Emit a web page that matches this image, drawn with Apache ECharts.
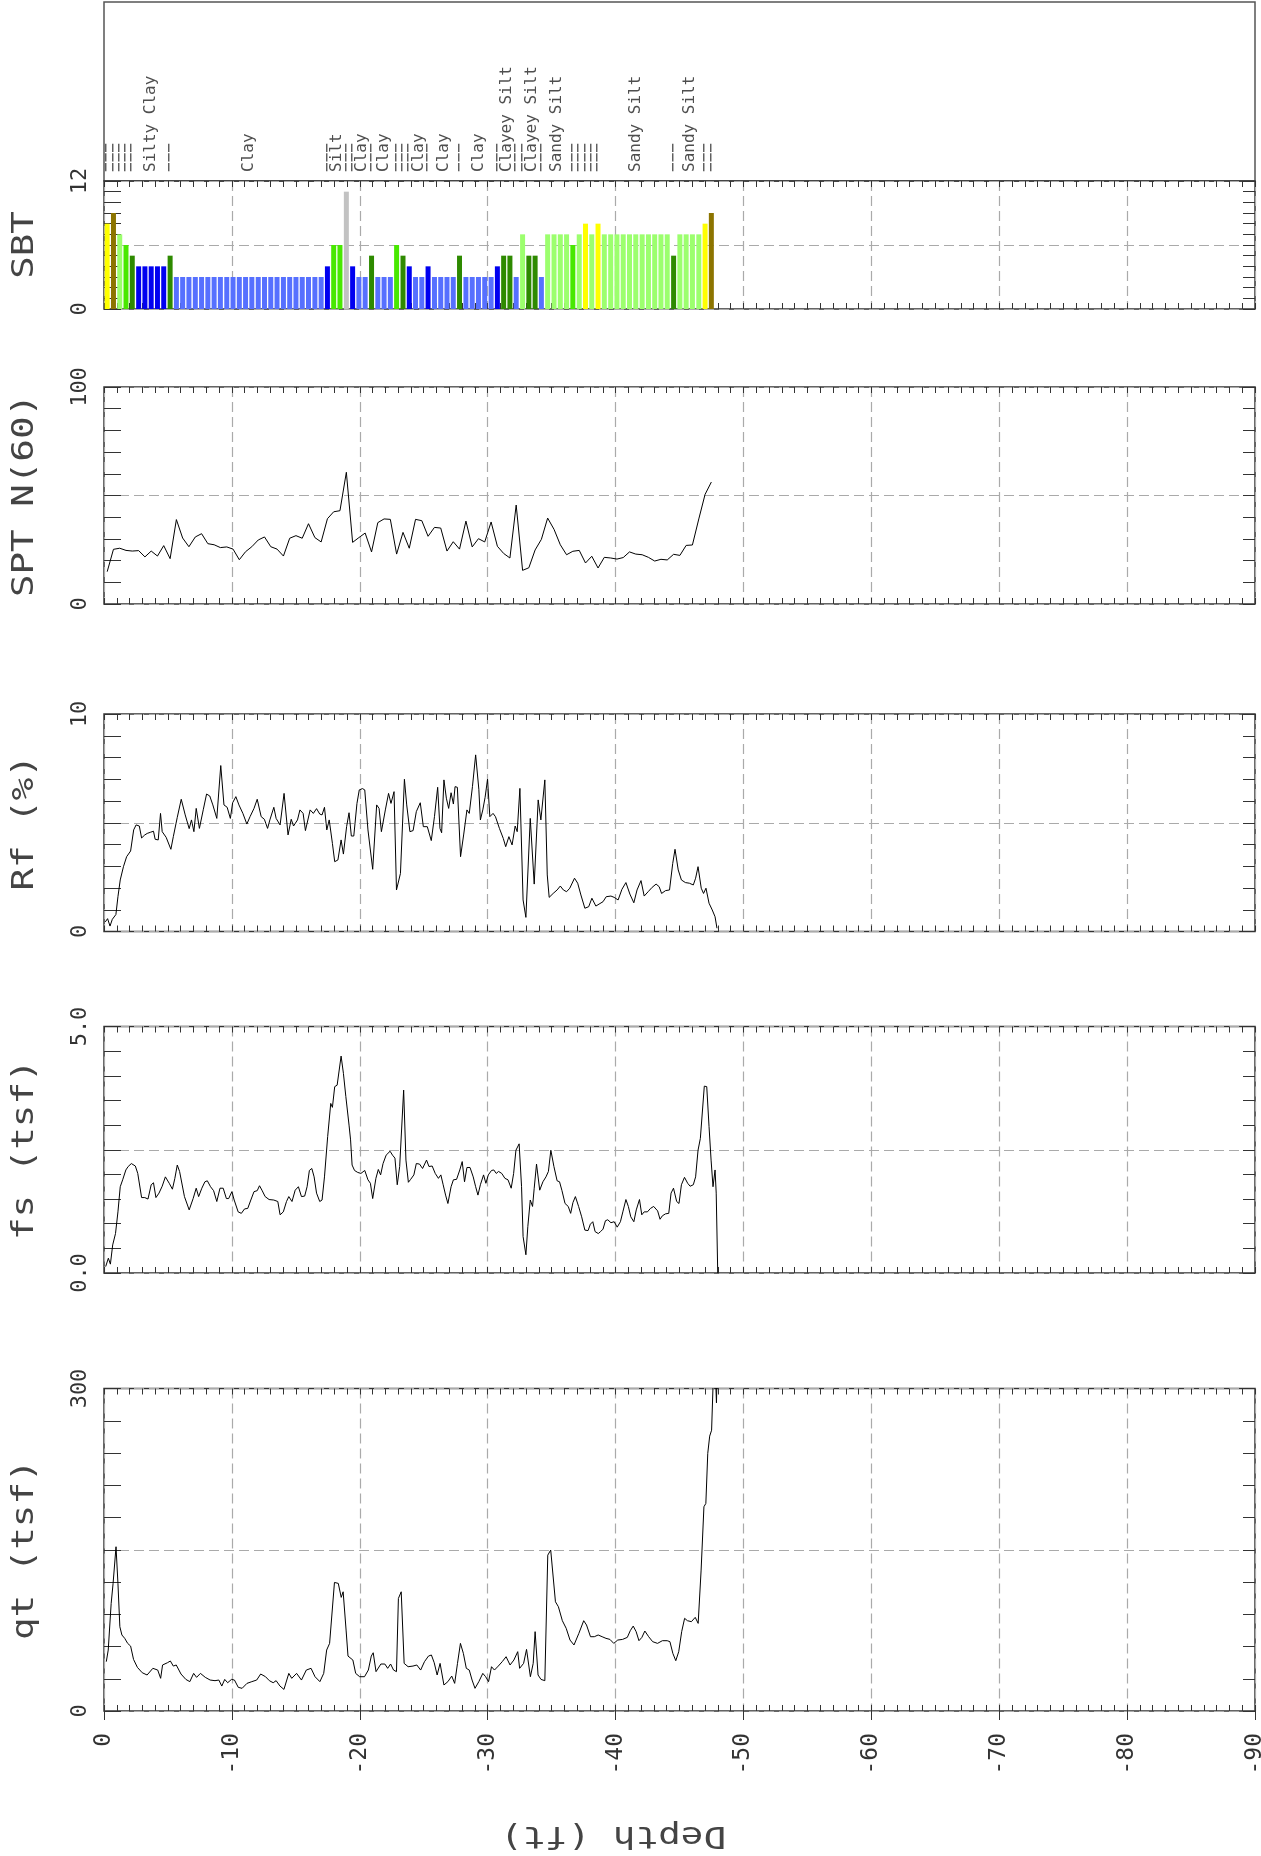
<!DOCTYPE html>
<html>
<head>
<meta charset="utf-8">
<title>CPT log</title>
<script src="https://cdn.jsdelivr.net/npm/echarts@6/dist/echarts.min.js"></script>
<style>
  html, body { margin: 0; padding: 0; background: #fff; }
  #chart { width: 1261px; height: 1856px; }
</style>
</head>
<body>
<div id="chart"></div>
<script>
// depth of each 0.15 m sample (ft), shared by SBT and SPT
const sampleDepth = [
  0.25, 0.74, 1.23, 1.72, 2.21, 2.71, 3.20, 3.69, 4.18, 4.67,
  5.17, 5.66, 6.15, 6.64, 7.14, 7.63, 8.12, 8.61, 9.10, 9.60,
  10.09, 10.58, 11.07, 11.56, 12.06, 12.55, 13.04, 13.53, 14.03, 14.52,
  15.01, 15.50, 15.99, 16.49, 16.98, 17.47, 17.96, 18.45, 18.95, 19.44,
  19.93, 20.42, 20.92, 21.41, 21.90, 22.39, 22.88, 23.38, 23.87, 24.36,
  24.85, 25.34, 25.84, 26.33, 26.82, 27.31, 27.80, 28.30, 28.79, 29.28,
  29.77, 30.27, 30.76, 31.25, 31.74, 32.23, 32.73, 33.22, 33.71, 34.20,
  34.69, 35.19, 35.68, 36.17, 36.66, 37.16, 37.65, 38.14, 38.63, 39.12,
  39.62, 40.11, 40.60, 41.09, 41.58, 42.08, 42.57, 43.06, 43.55, 44.04,
  44.54, 45.03, 45.52, 46.01, 46.51, 47.00, 47.49
];

const sbtClass = [
  8, 9, 7, 6, 5, 4, 4, 4, 4, 4,
  5, 3, 3, 3, 3, 3, 3, 3, 3, 3,
  3, 3, 3, 3, 3, 3, 3, 3, 3, 3,
  3, 3, 3, 3, 3, 4, 6, 6, 11, 4,
  3, 3, 5, 3, 3, 3, 6, 5, 4, 3,
  3, 4, 3, 3, 3, 3, 5, 3, 3, 3,
  3, 3, 4, 5, 5, 3, 7, 5, 5, 3,
  7, 7, 7, 7, 6, 7, 8, 7, 8, 7,
  7, 7, 7, 7, 7, 7, 7, 7, 7, 7,
  5, 7, 7, 7, 7, 8, 9
];

const sptN = [
  14.9, 25.2, 25.7, 24.7, 24.4, 24.6, 21.7, 24.4, 22.1, 26.9,
  20.9, 38.9, 30.4, 26.4, 30.9, 32.4, 27.8, 27.3, 26.0, 26.3,
  25.3, 20.4, 24.1, 26.4, 29.5, 30.9, 26.4, 25.3, 22.1, 30.3,
  31.5, 30.3, 37.0, 30.6, 28.6, 39.3, 42.5, 43.0, 60.7, 28.4,
  30.6, 32.7, 24.0, 37.5, 39.2, 39.0, 23.0, 33.0, 25.7, 39.0,
  38.4, 31.2, 35.3, 35.0, 24.4, 28.7, 25.3, 38.2, 26.3, 30.1,
  28.6, 37.8, 26.6, 23.3, 21.2, 45.6, 15.5, 16.7, 24.9, 29.8,
  39.6, 34.4, 27.3, 22.7, 24.3, 24.7, 18.9, 22.0, 16.6, 21.5,
  21.2, 20.7, 21.4, 24.0, 23.0, 22.7, 21.5, 19.8, 20.6, 20.3,
  22.9, 22.4, 27.0, 27.2, 39.2, 50.5, 56.2
];

// [depth ft, Rf %]
const rf = [
  [0.1,0.44],[0.28,0.59],[0.47,0.25],[0.65,0.56],[0.93,0.78],[1.09,1.6],[1.27,2.37],[1.52,2.98],[1.77,3.44],[2.08,3.7],
  [2.32,4.67],[2.51,4.9],[2.76,4.85],[2.94,4.3],[3.19,4.44],[3.38,4.51],[3.62,4.56],[3.87,4.61],[4.0,4.24],[4.24,4.21],
  [4.42,5.43],[4.55,4.59],[4.86,4.33],[5.23,3.78],[5.42,4.36],[5.73,5.25],[6.04,6.08],[6.35,5.36],[6.66,4.73],[6.84,5.13],
  [7.03,4.59],[7.21,5.66],[7.46,4.74],[7.77,5.62],[8.02,6.32],[8.27,6.23],[8.51,5.82],[8.82,5.2],[9.13,7.63],[9.38,5.82],
  [9.63,5.71],[9.88,5.2],[10.06,5.92],[10.31,6.2],[10.55,5.82],[10.86,5.43],[11.17,4.94],[11.42,5.28],[11.73,5.66],[11.98,6.08],
  [12.29,5.28],[12.54,5.16],[12.79,4.74],[12.97,5.13],[13.28,5.71],[13.46,5.2],[13.77,4.9],[14.08,6.35],[14.39,4.44],[14.64,5.16],
  [14.82,4.85],[15.13,5.13],[15.32,5.59],[15.57,5.43],[15.75,4.64],[16.12,5.59],[16.37,5.43],[16.62,5.65],[16.87,5.4],[17.05,5.36],
  [17.24,5.71],[17.42,4.67],[17.61,5.13],[17.86,4.05],[18.04,3.21],[18.29,3.29],[18.54,4.21],[18.72,3.56],[18.97,4.82],[19.16,5.46],
  [19.34,4.39],[19.53,4.39],[19.78,5.89],[19.96,6.51],[20.21,6.57],[20.39,6.51],[20.64,4.67],[21.01,2.86],[21.32,5.82],[21.51,5.66],
  [21.69,4.59],[22.0,5.59],[22.25,6.35],[22.44,5.89],[22.68,6.43],[22.87,1.91],[23.18,2.67],[23.49,7.0],[23.67,5.82],[23.92,4.59],
  [24.17,4.64],[24.42,5.51],[24.73,5.92],[24.97,4.82],[25.28,4.82],[25.59,4.18],[25.84,5.28],[26.09,6.63],[26.27,4.74],[26.4,4.54],
  [26.58,6.97],[26.77,6.13],[26.95,5.66],[27.14,6.38],[27.32,5.86],[27.45,6.66],[27.63,6.63],[27.88,3.44],[28.13,4.48],[28.38,5.59],
  [28.56,5.43],[28.81,6.66],[29.06,8.12],[29.31,6.54],[29.43,5.13],[29.62,5.59],[29.8,6.17],[29.99,7.0],[30.17,5.28],[30.42,5.43],
  [30.61,5.28],[30.92,4.74],[31.22,4.28],[31.41,3.9],[31.66,4.36],[31.91,3.98],[32.15,4.85],[32.31,4.59],[32.52,6.58],[32.77,1.45],
  [32.99,0.65],[33.33,5.2],[33.64,2.18],[33.95,6.05],[34.16,5.13],[34.47,6.97],[34.66,2.6],[34.81,1.57],[35.12,1.75],[35.43,1.91],
  [35.68,2.09],[35.92,1.91],[36.17,1.83],[36.42,1.99],[36.79,2.45],[37.04,2.22],[37.29,1.68],[37.6,1.07],[37.9,1.14],[38.15,1.53],
  [38.46,1.17],[38.71,1.26],[39.02,1.37],[39.27,1.6],[39.64,1.63],[39.89,1.57],[40.2,1.45],[40.5,1.94],[40.81,2.25],[41.12,1.72],
  [41.43,1.32],[41.68,1.91],[41.99,2.34],[42.24,1.63],[42.55,1.83],[42.86,2.03],[43.17,2.18],[43.41,2.06],[43.6,1.75],[43.91,1.88],
  [44.22,1.91],[44.47,3.13],[44.65,3.78],[44.9,2.83],[45.15,2.37],[45.46,2.25],[45.77,2.22],[46.08,2.14],[46.26,2.45],[46.45,2.98],
  [46.7,1.99],[46.88,1.75],[47.07,1.99],[47.31,1.3],[47.56,0.99],[47.78,0.68],[47.93,0.15]
];

// [depth ft, fs tsf]
const fs = [
  [0.13,0.13],[0.34,0.3],[0.5,0.18],[0.68,0.57],[0.9,0.8],[1.09,1.24],[1.27,1.75],[1.46,1.89],[1.71,2.09],[1.89,2.16],
  [2.14,2.22],[2.45,2.17],[2.64,2.02],[2.94,1.53],[3.19,1.53],[3.44,1.5],[3.69,1.79],[3.87,1.83],[4.06,1.53],[4.3,1.62],
  [4.55,1.76],[4.8,1.95],[5.1,1.82],[5.35,1.7],[5.54,1.92],[5.73,2.19],[5.91,2.06],[6.04,2.06],[6.29,1.55],[6.66,1.28],
  [6.97,1.51],[7.21,1.72],[7.4,1.55],[7.65,1.72],[7.89,1.85],[8.08,1.87],[8.33,1.75],[8.57,1.67],[8.82,1.45],[9.07,1.72],
  [9.32,1.72],[9.57,1.51],[9.75,1.51],[10.0,1.65],[10.18,1.48],[10.49,1.24],[10.74,1.21],[10.99,1.3],[11.24,1.31],[11.48,1.48],
  [11.73,1.65],[11.98,1.67],[12.16,1.77],[12.35,1.68],[12.6,1.55],[12.91,1.49],[13.28,1.48],[13.59,1.45],[13.77,1.18],[14.02,1.24],
  [14.27,1.45],[14.45,1.55],[14.7,1.45],[14.95,1.68],[15.2,1.75],[15.44,1.55],[15.69,1.56],[15.88,1.75],[16.06,2.08],[16.25,2.12],
  [16.43,1.95],[16.62,1.62],[16.87,1.45],[17.05,1.48],[17.24,1.95],[17.49,2.77],[17.73,3.44],[17.86,3.36],[18.04,3.78],[18.23,3.81],
  [18.54,4.4],[18.72,4.05],[18.91,3.58],[19.16,3.0],[19.28,2.7],[19.4,2.19],[19.59,2.08],[19.84,2.04],[20.09,2.02],[20.39,2.08],
  [20.64,1.89],[20.83,1.82],[21.01,1.51],[21.26,1.92],[21.45,2.1],[21.63,1.99],[21.82,2.22],[22.06,2.39],[22.37,2.47],[22.56,2.39],
  [22.75,2.33],[22.93,1.79],[23.12,2.16],[23.43,3.71],[23.61,2.29],[23.8,1.84],[23.98,1.9],[24.23,1.99],[24.42,2.22],[24.67,2.21],
  [24.91,2.12],[25.22,2.29],[25.41,2.16],[25.66,2.17],[25.9,2.02],[26.15,1.92],[26.34,1.99],[26.52,1.79],[26.71,1.58],[26.89,1.41],
  [27.14,1.75],[27.32,1.89],[27.57,1.9],[27.82,2.09],[28.01,2.26],[28.19,1.85],[28.38,2.14],[28.62,2.14],[28.87,1.95],[29.06,1.75],
  [29.24,1.58],[29.43,1.79],[29.68,1.99],[29.86,1.82],[30.05,1.99],[30.3,2.08],[30.48,2.09],[30.67,2.02],[30.85,2.06],[31.1,2.02],
  [31.35,1.92],[31.59,1.89],[31.84,1.72],[32.03,2.02],[32.21,2.49],[32.46,2.62],[32.65,1.75],[32.77,0.74],[32.99,0.37],[33.14,0.94],
  [33.33,1.48],[33.51,1.35],[33.64,1.72],[33.82,2.21],[34.07,1.68],[34.32,1.85],[34.56,1.95],[34.75,2.06],[34.94,2.49],[35.18,2.16],
  [35.43,1.87],[35.62,1.85],[35.81,1.67],[36.05,1.41],[36.3,1.35],[36.49,1.21],[36.67,1.43],[36.86,1.55],[37.11,1.35],[37.35,1.14],
  [37.6,0.87],[37.85,0.86],[38.03,0.99],[38.22,1.04],[38.4,0.84],[38.65,0.8],[38.83,0.84],[39.02,0.89],[39.21,1.06],[39.39,1.08],
  [39.64,1.02],[39.89,1.04],[40.13,0.93],[40.38,1.04],[40.57,1.24],[40.81,1.49],[41.0,1.35],[41.19,1.14],[41.43,1.04],[41.62,1.28],
  [41.87,1.49],[42.05,1.18],[42.24,1.24],[42.49,1.24],[42.73,1.31],[42.98,1.35],[43.29,1.26],[43.48,1.09],[43.66,1.16],[43.91,1.2],
  [44.16,1.21],[44.34,1.62],[44.53,1.72],[44.78,1.45],[44.96,1.41],[45.15,1.79],[45.39,1.94],[45.64,1.82],[45.83,1.76],[46.08,1.79],
  [46.26,1.95],[46.45,2.49],[46.63,2.73],[46.76,2.77],[46.94,3.79],[47.13,3.78],[47.31,2.97],[47.47,2.29],[47.62,1.75],[47.78,2.09],
  [47.87,1.62],[47.99,0.0]
];

// [depth ft, qt tsf]
const qt = [
  [0.18,45.9],[0.33,56.7],[0.56,100],[0.71,118.7],[0.94,152.8],[1.09,118.7],[1.24,78.4],[1.4,70.7],[1.62,67.6],[1.85,62.9],
  [2.08,60.4],[2.31,48.0],[2.61,40.6],[2.99,35.6],[3.37,33.5],[3.82,39.7],[4.2,38.1],[4.43,30.4],[4.58,42.8],[4.96,44.9],
  [5.19,46.5],[5.42,41.8],[5.65,42.8],[6.02,34.4],[6.4,29.4],[6.71,27.3],[7.01,35.0],[7.24,31.3],[7.54,35.0],[7.92,31.3],
  [8.3,28.8],[8.68,28.2],[8.98,28.8],[9.21,23.2],[9.44,29.4],[9.67,26.3],[9.97,29.4],[10.2,28.8],[10.5,22.0],[10.8,21.1],
  [11.18,25.7],[11.56,27.3],[11.94,28.8],[12.25,34.4],[12.63,31.9],[12.93,28.2],[13.23,26.3],[13.46,28.2],[13.76,23.2],[14.07,20.1],
  [14.45,35.0],[14.68,30.4],[15.06,35.0],[15.44,28.8],[15.82,38.1],[16.19,39.7],[16.5,31.9],[16.88,27.3],[17.18,35.0],[17.41,56.7],
  [17.64,62.9],[18.02,119.6],[18.32,118.7],[18.55,105.7],[18.7,110.9],[18.93,75.3],[19.08,51.1],[19.46,47.4],[19.68,35.0],[19.99,31.9],
  [20.37,31.9],[20.67,38.1],[20.9,51.1],[21.05,54.2],[21.27,36.6],[21.65,43.7],[21.96,43.7],[22.18,39.7],[22.41,43.7],[22.64,38.1],
  [22.87,36.6],[23.02,104.7],[23.24,110.9],[23.47,44.3],[23.78,41.2],[24.16,41.8],[24.46,42.8],[24.76,38.1],[25.06,45.9],[25.37,51.1],
  [25.6,52.1],[25.82,44.9],[26.05,33.5],[26.28,44.3],[26.58,24.2],[26.89,27.3],[27.19,32.5],[27.42,25.7],[27.64,44.3],[27.87,62.9],
  [28.1,53.6],[28.33,39.7],[28.56,38.1],[28.78,28.8],[29.01,21.1],[29.31,27.3],[29.62,35.0],[29.84,31.9],[30.07,27.3],[30.3,41.2],
  [30.53,38.1],[30.83,41.8],[31.14,45.9],[31.44,50.5],[31.75,42.8],[32.05,47.4],[32.35,55.2],[32.5,39.7],[32.81,44.3],[33.04,57.3],
  [33.34,31.9],[33.56,44.3],[33.71,73.8],[33.94,33.5],[34.17,29.4],[34.47,28.2],[34.7,145.0],[34.93,149.7],[35.3,101.6],[35.53,97.0],
  [35.84,84.0],[36.14,76.9],[36.44,66.0],[36.75,61.4],[37.13,72.2],[37.51,84.0],[37.73,80.0],[38.04,69.1],[38.34,69.1],[38.64,70.7],
  [38.95,69.1],[39.25,67.6],[39.56,66.6],[39.86,62.9],[40.17,66.0],[40.55,66.6],[40.92,68.5],[41.15,74.7],[41.38,79.0],[41.61,73.8],
  [41.83,65.4],[42.06,68.5],[42.29,74.4],[42.59,69.1],[42.9,64.5],[43.28,62.9],[43.66,65.4],[44.04,65.4],[44.25,64.5],[44.48,53.6],
  [44.71,46.8],[44.94,55.2],[45.17,73.8],[45.4,86.2],[45.62,84.0],[45.93,83.1],[46.23,87.1],[46.46,81.5],[46.69,131.1],[46.91,190.0],
  [47.06,193.1],[47.21,239.6],[47.36,255.7],[47.51,261.2],[47.67,320],[47.82,310],[47.89,286.7],[47.97,330]
];

const soilName = { 3: 'Clay', 4: 'Silty Clay', 5: 'Clayey Silt', 6: 'Silt', 7: 'Sandy Silt' };
const thinLayerMark = '−−−';
const sbtColor = {
  3: '#5670ff', 4: '#0000f0', 5: '#2e8a00', 6: '#48e800', 7: '#9cff6e',
  8: '#ffff00', 9: '#8c7400', 11: '#c2c2c2'
};

const panelTitle = ['SBT', 'SPT N(60)', 'Rf (%)', 'fs (tsf)', 'qt (tsf)'];
const panelMin = [0, 0, 0, 0, 0];
const panelMax = [12, 100, 10, 5, 300];
const panelStep = [1, 10, 1, 0.5, 30];
const panelEndLabels = [['0', '12'], ['0', '100'], ['0', '10'], ['0.0', '5.0'], ['0', '300']];
const depthTitle = 'Depth (ft)';

// layout (px)
const LEFT = 104, RIGHT = 6;
const panelTop = [181, 387, 714, 1026.5, 1388.5];
const panelHeight = [128, 217, 217.5, 246.5, 322.5];

const FONT = '"DejaVu Sans Mono", monospace';
const INK = '#333';
const dash = { type: [10, 5], color: '#aaa', width: 1.2 };
// every axis sits on its own grid edge (no snapping to the other axis' zero)
const noLine = { show: false, onZero: false };

// soil layer labels: one per run of equal SBT class
const soilLabels = [];
for (let i = 0; i < sbtClass.length;) {
  let j = i;
  while (j + 1 < sbtClass.length && sbtClass[j + 1] === sbtClass[i]) j++;
  const mid = (sampleDepth[i] + sampleDepth[j]) / 2;
  soilLabels.push([mid, 0, j > i ? soilName[sbtClass[i]] : thinLayerMark]);
  i = j + 1;
}

const grid = [{
  left: LEFT, right: RIGHT, top: 2, height: 179, show: true,
  borderColor: '#555', borderWidth: 1.5, outerBoundsMode: 'none'
}];
const xAxis = [{ gridIndex: 0, type: 'value', min: 0, max: 90, show: false, axisLine: noLine }];
const yAxis = [{ gridIndex: 0, type: 'value', min: 0, max: 1, show: false, axisLine: noLine }];
const graphic = [];

panelTitle.forEach((title, i) => {
  const g = i + 1;
  const last = i === panelTitle.length - 1;
  grid.push({
    left: LEFT, right: RIGHT, top: panelTop[i], height: panelHeight[i], show: true,
    borderColor: INK, borderWidth: 1.5, outerBoundsMode: 'none'
  });
  const tickStyle = { color: INK, width: 1 };
  xAxis.push(
    { gridIndex: g, type: 'value', min: 0, max: 90, interval: 1, position: 'bottom',
      axisLine: noLine, axisTick: { inside: true, length: 6, lineStyle: tickStyle },
      axisLabel: { show: false }, splitLine: { show: false } },
    { gridIndex: g, type: 'value', min: 0, max: 90, interval: 1, position: 'top',
      axisLine: noLine, axisTick: { inside: true, length: 6, lineStyle: tickStyle },
      axisLabel: { show: false }, splitLine: { show: false } },
    { gridIndex: g, type: 'value', min: 0, max: 90, interval: 10, position: 'bottom',
      axisLine: noLine,
      axisTick: { show: last, inside: false, length: 9, lineStyle: tickStyle },
      axisLabel: { show: last, rotate: 90, margin: 22, fontFamily: FONT, fontSize: 23,
        color: INK, formatter: v => String(-v) },
      splitLine: { show: true, lineStyle: dash } }
  );
  const lo = panelMin[i], hi = panelMax[i];
  yAxis.push(
    { gridIndex: g, type: 'value', min: lo, max: hi, interval: panelStep[i], position: 'left',
      axisLine: noLine, axisTick: { inside: true, length: 17, lineStyle: tickStyle },
      axisLabel: { rotate: 90, margin: 13, fontFamily: FONT, fontSize: 22, color: INK,
        showMinLabel: true, showMaxLabel: true,
        formatter: v => v === lo ? panelEndLabels[i][0] : (Math.abs(v - hi) < 1e-9 ? panelEndLabels[i][1] : '') },
      splitLine: { show: false } },
    { gridIndex: g, type: 'value', min: lo, max: hi, interval: panelStep[i], position: 'right',
      axisLine: noLine, axisTick: { inside: true, length: 12, lineStyle: tickStyle },
      axisLabel: { show: false }, splitLine: { show: false } },
    { gridIndex: g, type: 'value', min: lo, max: hi, interval: (hi - lo) / 2, position: 'left',
      axisLine: noLine, axisTick: { show: false }, axisLabel: { show: false },
      splitLine: { show: true, lineStyle: dash } }
  );
  graphic.push({
    type: 'text', x: 25.5, y: panelTop[i] + panelHeight[i] / 2, rotation: Math.PI / 2,
    scaleX: 1.25,
    style: { text: title, font: '30px ' + FONT, fill: '#444',
      textAlign: 'center', textVerticalAlign: 'middle' }
  });
});

graphic.push({
  type: 'text', x: 613, y: 1835, rotation: Math.PI, scaleX: 1.25,
  style: { text: depthTitle, font: '30px ' + FONT, fill: '#444',
    textAlign: 'center', textVerticalAlign: 'middle' }
});

const axisOf = i => ({ xAxisIndex: 1 + i * 3, yAxisIndex: 1 + i * 3 });
const lineBase = { type: 'line', symbol: 'none', clip: true,
  lineStyle: { color: '#000', width: 1 }, z: 5 };

const series = [
  {
    type: 'scatter', xAxisIndex: 0, yAxisIndex: 0, symbolSize: 0, silent: true,
    data: soilLabels,
    label: { show: true, position: 'top', distance: 9, rotate: 90, align: 'left',
      verticalAlign: 'middle', fontFamily: FONT, fontSize: 16, color: '#222',
      formatter: p => p.data[2] }
  },
  Object.assign({
    type: 'bar', barWidth: 5, silent: true,
    data: sampleDepth.map((d, k) => ({
      value: [d, sbtClass[k]], itemStyle: { color: sbtColor[sbtClass[k]] }
    }))
  }, axisOf(0)),
  Object.assign({}, lineBase, axisOf(1), { data: sampleDepth.map((d, k) => [d, sptN[k]]) }),
  Object.assign({}, lineBase, axisOf(2), { data: rf }),
  Object.assign({}, lineBase, axisOf(3), { data: fs }),
  Object.assign({}, lineBase, axisOf(4), { data: qt })
];

const chart = echarts.init(document.getElementById('chart'));
chart.setOption({
  animation: false,
  backgroundColor: '#fff',
  textStyle: { fontFamily: FONT },
  grid, xAxis, yAxis, series, graphic
});
</script>
</body>
</html>
